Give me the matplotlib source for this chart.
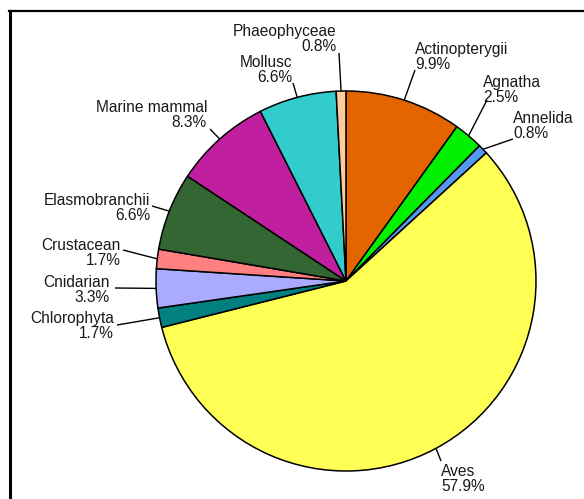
import matplotlib
matplotlib.use("Agg")
import matplotlib.pyplot as plt
from matplotlib.lines import Line2D
import numpy as np

# records per group (121 in total)
groups = ["Actinopterygii", "Agnatha", "Annelida", "Aves", "Chlorophyta",
          "Cnidarian", "Crustacean", "Elasmobranchii", "Marine mammal",
          "Mollusc", "Phaeophyceae"]
counts = [12, 3, 1, 70, 2, 4, 2, 8, 10, 8, 1]
colors = ["#E46400", "#00F000", "#5599EE", "#FFFF55", "#008080",
          "#AAAAFF", "#FF8080", "#336633", "#C020A0", "#33CCCC", "#FFCC99"]

# label layout in pixels (y down): text x, baseline of 2nd line, alignment,
# and the point where the leader line leaves the text
label_layout = {
    "Actinopterygii": (415, 69, "left", (415, 70)),
    "Agnatha": (483, 102, "left", (487, 100)),
    "Annelida": (513, 138, "left", (513, 139)),
    "Aves": (441, 491, "left", (441, 461)),
    "Chlorophyta": (114, 338, "right", (117, 325)),
    "Cnidarian": (110, 302, "right", (115, 288)),
    "Crustacean": (121, 265, "right", (123, 250)),
    "Elasmobranchii": (150, 220, "right", (152, 206)),
    "Marine mammal": (207, 127, "right", (210, 129)),
    "Mollusc": (292, 82, "right", (293, 83)),
    "Phaeophyceae": (337, 51, "right", (339, 53)),
}

W, H = 584, 499
cx, cy, r = 346, 281, 190

plt.rcParams["font.family"] = ["Liberation Sans", "DejaVu Sans"]
fig = plt.figure(figsize=(W / 100, H / 100), dpi=100)
ax = fig.add_axes([0, 0, 1, 1])

# y axis runs downward, so counterclock=True turns clockwise on screen
wedges, _ = ax.pie(counts, colors=colors, startangle=-90, counterclock=True,
                   center=(cx, cy), radius=r,
                   wedgeprops=dict(edgecolor="black", linewidth=1.1))
ax.set_xlim(0, W)
ax.set_ylim(H, 0)
ax.set_aspect("equal")
ax.axis("off")

total = sum(counts)
for name, n, w in zip(groups, counts, wedges):
    pct = 100 * n / total
    tx, ty, ha, (lx, ly) = label_layout[name]
    ax.text(tx, ty, f"{name}\n{pct:.1f}%", ha=ha, va="baseline",
            multialignment=ha, fontsize=11.2, color="#1a1a1a", linespacing=0.98)
    mid = np.deg2rad((w.theta1 + w.theta2) / 2)
    px, py = cx + r * np.cos(mid), cy + r * np.sin(mid)
    ax.plot([lx, px], [ly, py], color="black", linewidth=1.0, solid_capstyle="butt")

# chart area border (left and top edges only show)
fig.add_artist(Line2D([10 / W, 10 / W], [0, 1 - 11 / H], color="black",
                      linewidth=2.2, transform=fig.transFigure))
fig.add_artist(Line2D([9 / W, 1], [1 - 11 / H, 1 - 11 / H], color="black",
                      linewidth=1.6, transform=fig.transFigure))

fig.savefig("out.png", dpi=100, facecolor="white")
